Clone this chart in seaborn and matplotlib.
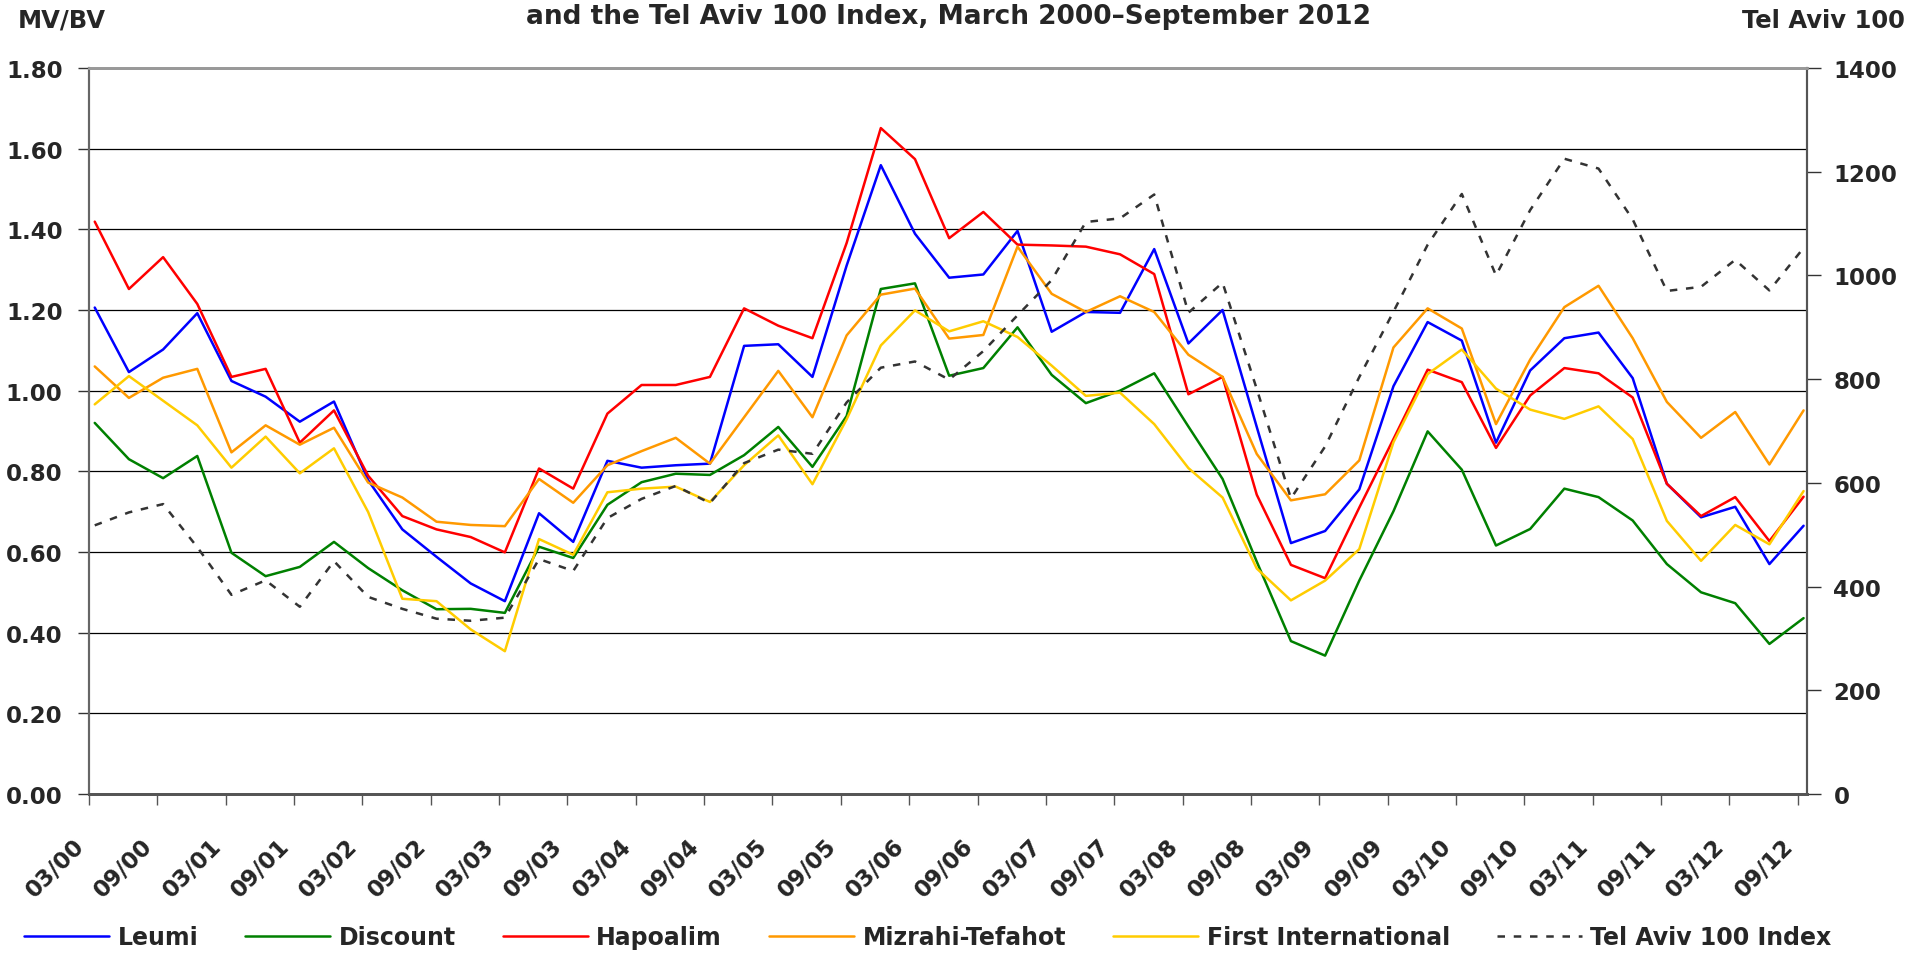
"""
    MV/BV ratios of the big Israeli banks against the Tel Aviv 100 Index,
    quarterly from March 2000 to September 2012.
"""

import numpy as np
import pandas as pd
import seaborn as sns
import matplotlib.pyplot as plt
import matplotlib.transforms as mtransforms

# quarter index 0 = 03/00 ... 50 = 09/12
quarters = list(range(51))
tick_labels = [f"{m}/{y:02d}" for y in range(0, 13) for m in ("03", "09")]

leumi = [1.206, 1.046, 1.102, 1.192, 1.024, 0.985, 0.923, 0.973, 0.778, 0.656,
         0.588, 0.522, 0.478, 0.696, 0.625, 0.826, 0.809, 0.815, 0.819, 1.111,
         1.115, 1.034, 1.310, 1.559, 1.389, 1.280, 1.288, 1.396, 1.146, 1.195,
         1.193, 1.351, 1.117, 1.200, 0.910, 0.622, 0.652, 0.755, 1.011, 1.170,
         1.124, 0.871, 1.050, 1.130, 1.144, 1.031, 0.769, 0.686, 0.712, 0.570,
         0.665]
discount = [0.920, 0.830, 0.783, 0.838, 0.598, 0.540, 0.563, 0.625, 0.560, 0.505,
            0.458, 0.459, 0.449, 0.613, 0.585, 0.717, 0.773, 0.794, 0.791, 0.840,
            0.910, 0.811, 0.937, 1.252, 1.266, 1.037, 1.056, 1.157, 1.039, 0.969,
            1.000, 1.043, 0.911, 0.781, 0.576, 0.379, 0.343, 0.529, 0.701, 0.899,
            0.804, 0.616, 0.657, 0.757, 0.736, 0.678, 0.570, 0.500, 0.473, 0.372,
            0.436]
hapoalim = [1.419, 1.252, 1.331, 1.215, 1.034, 1.054, 0.871, 0.951, 0.789, 0.689,
            0.656, 0.637, 0.599, 0.807, 0.757, 0.943, 1.014, 1.014, 1.034, 1.204,
            1.161, 1.130, 1.366, 1.651, 1.574, 1.378, 1.443, 1.362, 1.360, 1.357,
            1.338, 1.289, 0.991, 1.034, 0.742, 0.568, 0.535, 0.710, 0.880, 1.052,
            1.021, 0.858, 0.988, 1.056, 1.043, 0.983, 0.769, 0.689, 0.736, 0.627,
            0.737]
mizrahi = [1.060, 0.982, 1.032, 1.054, 0.847, 0.914, 0.866, 0.908, 0.772, 0.735,
           0.675, 0.667, 0.664, 0.781, 0.722, 0.815, 0.850, 0.883, 0.819, 0.934,
           1.049, 0.934, 1.137, 1.238, 1.253, 1.129, 1.138, 1.357, 1.240, 1.195,
           1.234, 1.195, 1.089, 1.034, 0.843, 0.728, 0.743, 0.827, 1.107, 1.204,
           1.154, 0.917, 1.077, 1.207, 1.260, 1.130, 0.972, 0.883, 0.947, 0.817,
           0.951]
first_intl = [0.966, 1.036, 0.975, 0.914, 0.809, 0.886, 0.795, 0.857, 0.699, 0.484,
              0.478, 0.408, 0.354, 0.632, 0.593, 0.748, 0.757, 0.762, 0.724, 0.815,
              0.889, 0.768, 0.929, 1.112, 1.199, 1.147, 1.172, 1.133, 1.062, 0.987,
              0.995, 0.917, 0.808, 0.735, 0.559, 0.480, 0.529, 0.607, 0.872, 1.041,
              1.102, 1.005, 0.953, 0.930, 0.961, 0.880, 0.677, 0.578, 0.667, 0.619,
              0.751]
ta100 = [518, 543, 559, 476, 384, 412, 361, 449, 380, 357,
         338, 334, 340, 453, 430, 532, 569, 594, 561, 638,
         664, 656, 755, 822, 834, 799, 854, 923, 991, 1103,
         1110, 1156, 928, 986, 781, 570, 670, 804, 930, 1059,
         1157, 1000, 1126, 1225, 1206, 1108, 970, 978, 1030, 971,
         1053]

banks = {
    "Leumi": (leumi, "#0000FF"),
    "Discount": (discount, "#008000"),
    "Hapoalim": (hapoalim, "#FF0000"),
    "Mizrahi-Tefahot": (mizrahi, "#FF9900"),
    "First International": (first_intl, "#FFCC00"),
}

sns.set_style("white")
plt.rcParams["font.family"] = ["DejaVu Sans"]
plt.rcParams["font.weight"] = "bold"
FS = 16.5

fig, ax = plt.subplots(figsize=(19.25, 9.54), dpi=100)
fig.subplots_adjust(left=0.0462, right=0.9387, top=0.9277, bottom=0.1667)

for name, (vals, col) in banks.items():
    df = pd.DataFrame({"q": quarters, "v": vals})
    sns.lineplot(data=df, x="q", y="v", ax=ax, color=col, lw=1.8, label=name)

ax2 = ax.twinx()
sns.lineplot(x=quarters, y=ta100, ax=ax2, color="#333333", lw=1.8,
             linestyle=(0, (3, 3.5)), label="Tel Aviv 100 Index")

# left axis
ax.set_ylim(0, 1.8)
ax.set_yticks(np.arange(0, 1.81, 0.2))
ax.set_yticklabels([f"{v:.2f}" for v in np.arange(0, 1.81, 0.2)], fontsize=FS, fontweight="bold")
ax.yaxis.grid(True, color="black", lw=0.9)
ax.set_axisbelow(True)
ax.set_xlim(-0.17, 50.1)
ax.set_xticks(np.arange(0, 51, 2) - 0.17)
ax.set_xticklabels(tick_labels, rotation=45, ha="right", va="top", fontsize=FS, fontweight="bold")
shift = mtransforms.ScaledTranslation(-6 / 100, 0, fig.dpi_scale_trans)
for lbl in ax.get_xticklabels():
    lbl.set_transform(lbl.get_transform() + shift)
ax.tick_params(axis="y", direction="out", length=8, width=1, color="#333333", pad=11, left=True)
ax.tick_params(axis="x", direction="out", length=8, width=1, color="#555555", pad=21, bottom=True)
ax.set_xlabel("")
ax.set_ylabel("")

# right axis
ax2.set_ylim(0, 1400)
ax2.set_yticks(range(0, 1401, 200))
ax2.set_yticklabels([str(v) for v in range(0, 1401, 200)], fontsize=FS, fontweight="bold")
ax2.tick_params(axis="y", direction="out", length=10, width=1, color="#333333", pad=9, right=True)
ax2.set_ylabel("")

for a in (ax, ax2):
    a.spines["left"].set_color("#666666")
    a.spines["left"].set_linewidth(1.5)
    a.spines["right"].set_color("#555555")
    a.spines["right"].set_linewidth(1.5)
    a.spines["bottom"].set_color("#555555")
    a.spines["bottom"].set_linewidth(2)
    a.spines["top"].set_color("#999999")
    a.spines["top"].set_linewidth(2)

h1, l1 = ax.get_legend_handles_labels()
h2, l2 = ax2.get_legend_handles_labels()
ax.get_legend().remove()
ax2.get_legend().remove()
fig.legend(h1 + h2, l1 + l2, ncol=6, loc="center", bbox_to_anchor=(0.482, 0.0168),
           frameon=False, handlelength=3.6, handletextpad=0.35, columnspacing=2.0,
           borderpad=0, prop={"size": 17, "weight": "bold"})

fig.text(18 / 1925, 1 - 21 / 954, "MV/BV", fontsize=17.5, fontweight="bold", ha="left", va="center")
fig.text(948 / 1925, 1 - 17 / 954, "and the Tel Aviv 100 Index, March 2000\u2013September 2012",
         fontsize=19, fontweight="bold", ha="center", va="center")
fig.text(1905 / 1925, 1 - 21 / 954, "Tel Aviv 100", fontsize=17.5, fontweight="bold", ha="right", va="center")

plt.savefig("out.png", dpi=100)
plt.close()
